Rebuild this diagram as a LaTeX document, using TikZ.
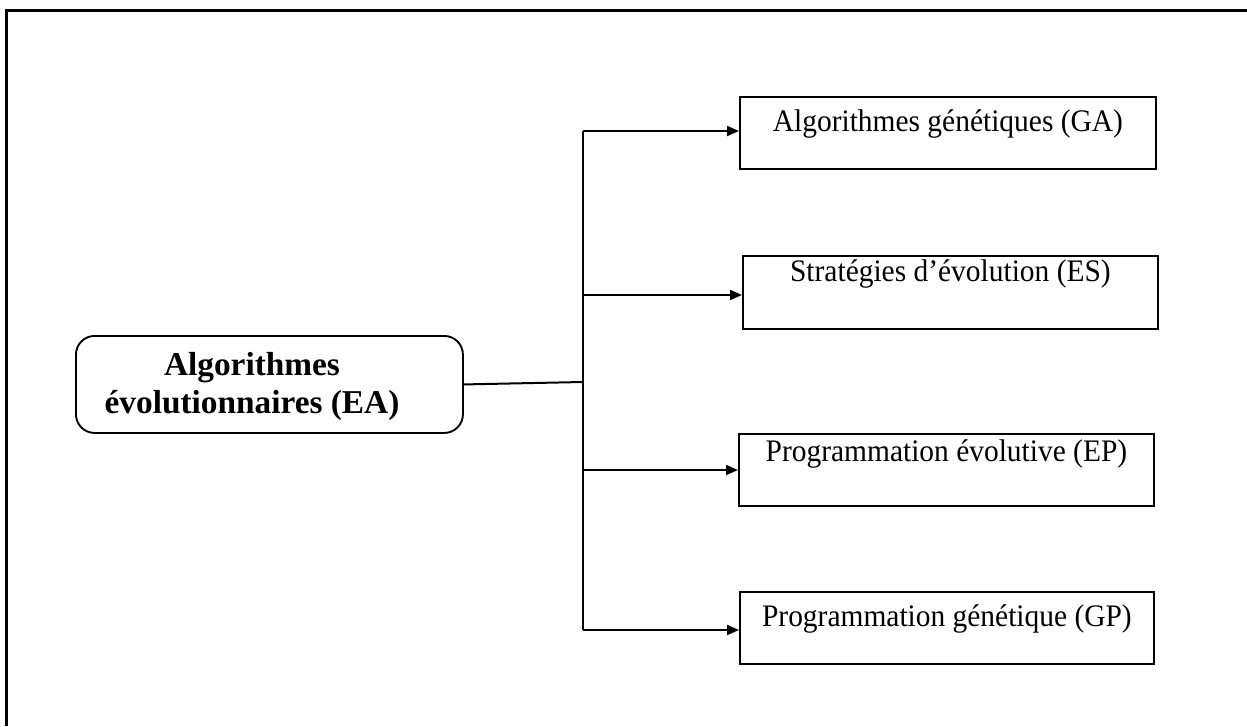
\documentclass[tikz,border=0pt]{standalone}
\usepackage{fontspec}
\setmainfont{Liberation Serif}
\newfontfamily\boxfont[FakeStretch=0.94]{Liberation Serif}
\usetikzlibrary{arrows.meta}
\begin{document}
\begin{tikzpicture}[x=0.75pt,y=-0.75pt,
  wire/.style={line width=1.5pt},
  arr/.style={wire,-{Triangle[length=9pt,width=7.5pt]}},
  kind/.style={draw,line width=1.4pt,rectangle,inner sep=0pt,anchor=north west,
    font=\boxfont\fontsize{23.5pt}{26pt}\selectfont},
  root/.style={draw,line width=1.4pt,rounded corners=14pt,inner sep=0pt,anchor=north west,
    minimum width=290.25pt,minimum height=72.75pt},
  roottext/.style={align=center,inner sep=0pt,font=\bfseries\fontsize{25pt}{28.5pt}\selectfont}]
\useasboundingbox (0,0) rectangle (1247,726);
% page frame (top and left edges)
\draw[line width=2pt] (1247,10.5) -- (6.2,10.5) -- (6.2,726);

% root box
\node[root] (ea) at (75,335) {};
\node[roottext] (eatext) at (252,386) {Algorithmes\\évolutionnaires (EA)};

% the four families
\node[kind,minimum width=312pt,text height=26.25pt,text depth=27.75pt] (ga) at (739,96)
  {Algorithmes génétiques (GA)};
\node[kind,minimum width=311.25pt,text height=19.5pt,text depth=35.25pt] (es) at (742,255)
  {Stratégies d’évolution (ES)};
\node[kind,minimum width=311.25pt,text height=21pt,text depth=33pt] (ep) at (738,433)
  {Programmation évolutive (EP)};
\node[kind,minimum width=310.5pt,text height=26.25pt,text depth=27.75pt] (gp) at (739,591)
  {Programmation génétique (GP)};

% trunk and branches
\coordinate (j) at (583,382);
\coordinate (jga) at (583,131);
\coordinate (jes) at (583,295);
\coordinate (jep) at (583,470);
\coordinate (jgp) at (583,630);
\draw[wire] (ea.east) -- (j);
\draw[wire] (jga) -- (jgp);
\draw[arr] (jga) -- (jga -| ga.west);
\draw[arr] (jes) -- (jes -| es.west);
\draw[arr] (jep) -- (jep -| ep.west);
\draw[arr] (jgp) -- (jgp -| gp.west);
\end{tikzpicture}
\end{document}
